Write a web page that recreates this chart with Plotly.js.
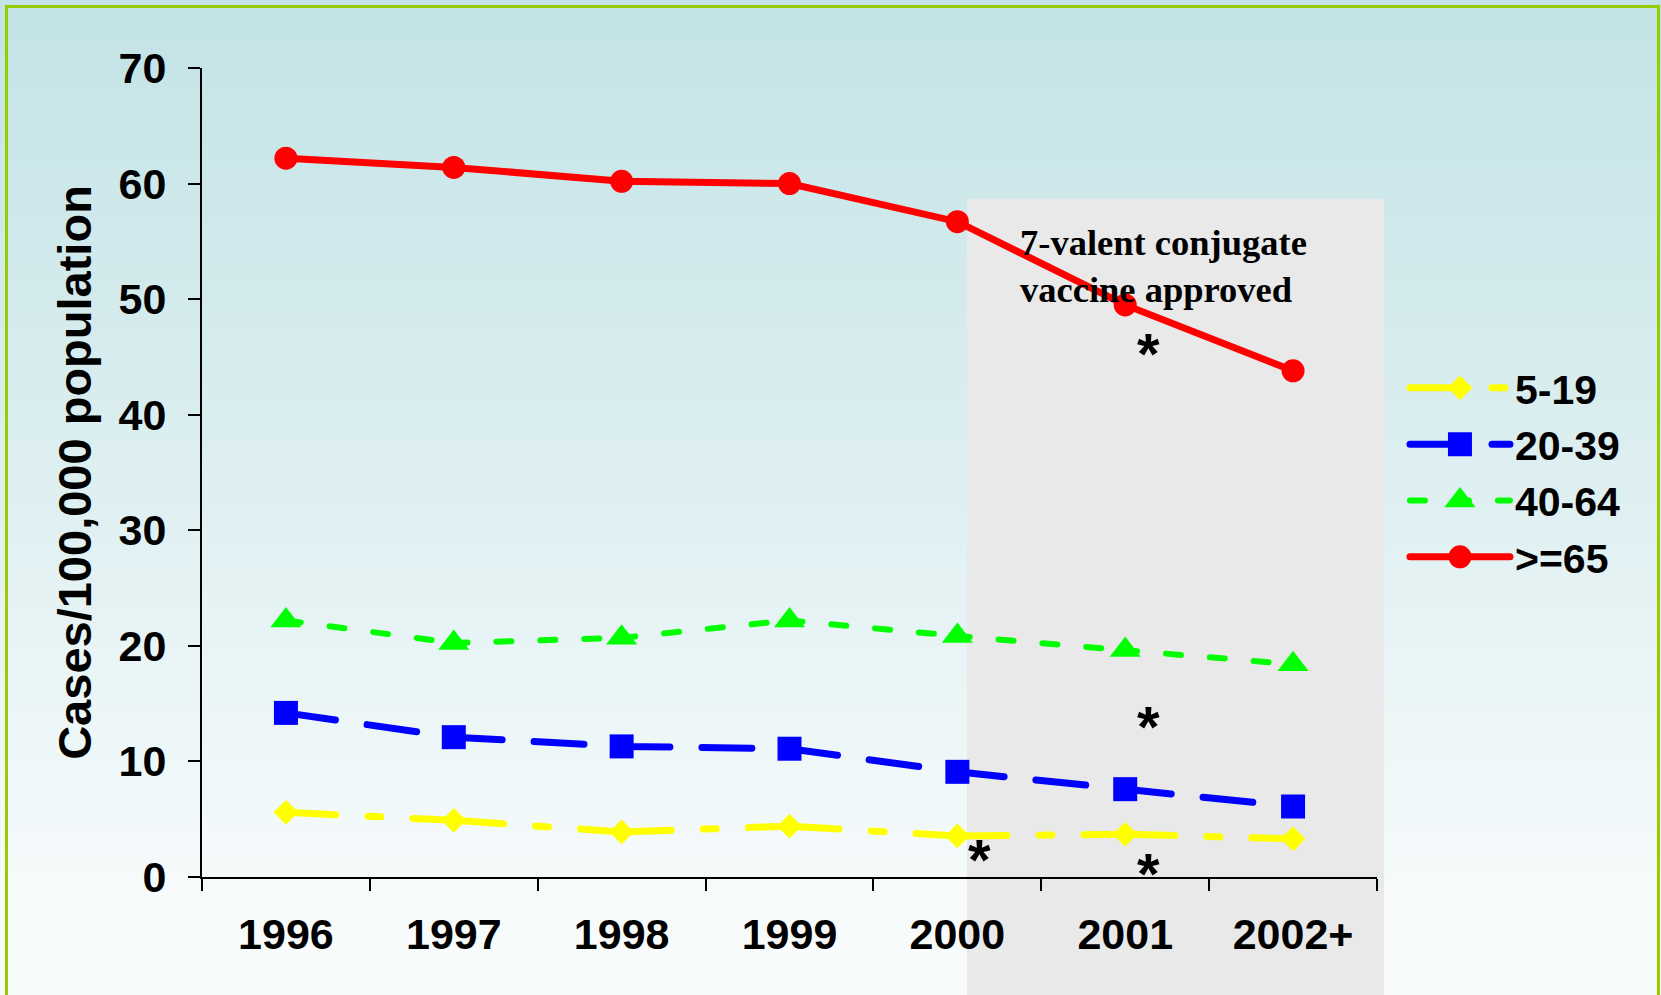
<!DOCTYPE html>
<html><head><meta charset="utf-8">
<script src="https://cdn.plot.ly/plotly-3.0.1.min.js"></script>
<style>
html,body{margin:0;padding:0;width:1661px;height:995px;overflow:hidden;}
body{background:linear-gradient(to bottom,#c3e3e6 0%,#d9edef 40%,#eef7f8 75%,#f8fbfc 92%,#f9fcfd 100%);}
#chart{position:absolute;left:0;top:0;width:1661px;height:995px;}
#chart path.js-line{stroke-linecap:round;}
#frame{position:absolute;left:5px;top:5px;width:1649px;height:1200px;border:3px solid #99cc00;pointer-events:none;z-index:5;}
</style></head><body>
<div id="chart"></div><div id="frame"></div>
<script>
const years = ['1996', '1997', '1998', '1999', '2000', '2001', '2002+'];
const age5to19 = [5.6, 4.9, 3.9, 4.4, 3.55, 3.7, 3.3];
const age20to39 = [14.2, 12.1, 11.3, 11.1, 9.1, 7.6, 6.1];
const age40to64 = [22.2, 20.25, 20.7, 22.2, 20.85, 19.65, 18.4];
const age65plus = [62.2, 61.4, 60.2, 60.0, 56.7, 49.5, 43.8];
const seriesNames = ['5-19', '20-39', '40-64', '>=65'];
const yTickValues = [0, 10, 20, 30, 40, 50, 60, 70];
const yAxisTitle = 'Cases/100,000 population';
const vaccineNote = '7-valent conjugate<br>vaccine approved';
// significance marks: [series, year]
const starMarks = [['>=65', '2001'], ['40-64', '2001'], ['5-19', '2000'], ['5-19', '2001']];

const seriesValues = {'5-19': age5to19, '20-39': age20to39, '40-64': age40to64, '>=65': age65plus};
const styles = {
  '5-19': {color: '#ffff00', width: 7, dash: '50px,32px,13px,32px,41px,0px', symbol: 'diamond', size: 19},
  '20-39': {color: '#0000ff', width: 7, dash: '50px,32px,50px,36px', symbol: 'square', size: 24},
  '40-64': {color: '#00ff00', width: 6, dash: '15px,29px,15px,29px,15px,29px,15px,21px', symbol: 'triangle-up', size: 27},
  '>=65': {color: '#ff0000', width: 7, dash: 'solid', symbol: 'circle', size: 23}
};

const traces = seriesNames.map(n => ({
  type: 'scatter', mode: 'lines+markers', name: n,
  x: years, y: seriesValues[n],
  line: {color: styles[n].color, width: styles[n].width, dash: styles[n].dash},
  marker: {color: styles[n].color, symbol: styles[n].symbol, size: styles[n].size}
}));

const fontFam = 'Liberation Sans, Arial, sans-serif';
const starOffsets = [[23, -49], [23, -77], [22, -24], [23, -39]];
const annotations = starMarks.map((m, i) => {
  const idx = years.indexOf(m[1]);
  return {
    xref: 'x', yref: 'y', x: idx, y: seriesValues[m[0]][idx],
    text: '*', showarrow: false, xanchor: 'center', yanchor: 'middle',
    xshift: starOffsets[i][0], yshift: starOffsets[i][1],
    font: {family: fontFam, size: 58, color: '#000', weight: 700}
  };
});
annotations.push({
  xref: 'x', yref: 'y', x: 4.36, y: 52.9, text: vaccineNote, showarrow: false,
  xanchor: 'left', yanchor: 'middle', align: 'left',
  font: {family: 'Liberation Serif, Times New Roman, serif', size: 36.5, color: '#000', weight: 700}
});

const layout = {
  width: 1661, height: 995, autosize: false,
  margin: {l: 202, r: 284, t: 68, b: 118, pad: 0},
  paper_bgcolor: 'rgba(0,0,0,0)', plot_bgcolor: 'rgba(0,0,0,0)',
  font: {family: fontFam, color: '#000'},
  showlegend: true,
  legend: {
    x: 1.0238, xanchor: 'left', y: 0.6456, yanchor: 'top',
    bgcolor: 'rgba(0,0,0,0)', borderwidth: 0, itemwidth: 100,
    font: {family: fontFam, size: 41, color: '#000', weight: 700},
    tracegroupgap: 0
  },
  xaxis: {
    type: 'category', range: [-0.5, 6.5], tickson: 'boundaries',
    showline: true, linecolor: '#000', linewidth: 2, mirror: false,
    ticks: 'outside', ticklen: 12, tickwidth: 2, tickcolor: '#000',
    ticklabelstandoff: 18,
    showgrid: false, zeroline: false, fixedrange: true,
    tickfont: {family: fontFam, size: 43, color: '#000', weight: 700}
  },
  yaxis: {
    range: [0, 70], tickvals: yTickValues, ticktext: yTickValues.map(String),
    showline: true, linecolor: '#000', linewidth: 2,
    ticks: 'outside', ticklen: 12, tickwidth: 2, tickcolor: '#000',
    ticklabelstandoff: 13,
    showgrid: false, zeroline: false, fixedrange: true,
    tickfont: {family: fontFam, size: 43, color: '#000', weight: 700},
    title: {text: yAxisTitle, standoff: 12, font: {family: fontFam, size: 47, color: '#000', weight: 700}}
  },
  shapes: [{
    type: 'rect', xref: 'paper', yref: 'paper', layer: 'below',
    x0: 0.651, x1: 1.006, y0: -0.2, y1: 0.838,
    fillcolor: '#e9e9e9', line: {width: 0}
  }],
  annotations: annotations
};

Plotly.newPlot('chart', traces, layout, {displayModeBar: false, staticPlot: true}).then(gd => {
  // legend symbols are capped at 16px by Plotly; enlarge them to the trace marker size
  gd.querySelectorAll('.legend .traces').forEach((el, i) => {
    const k = styles[seriesNames[i]].size / 16;
    el.querySelectorAll('path.scatterpts').forEach(p => {
      const t = p.getAttribute('transform') || '';
      p.setAttribute('transform', t + ' scale(' + k + ')');
    });
  });
});
</script>
</body></html>
